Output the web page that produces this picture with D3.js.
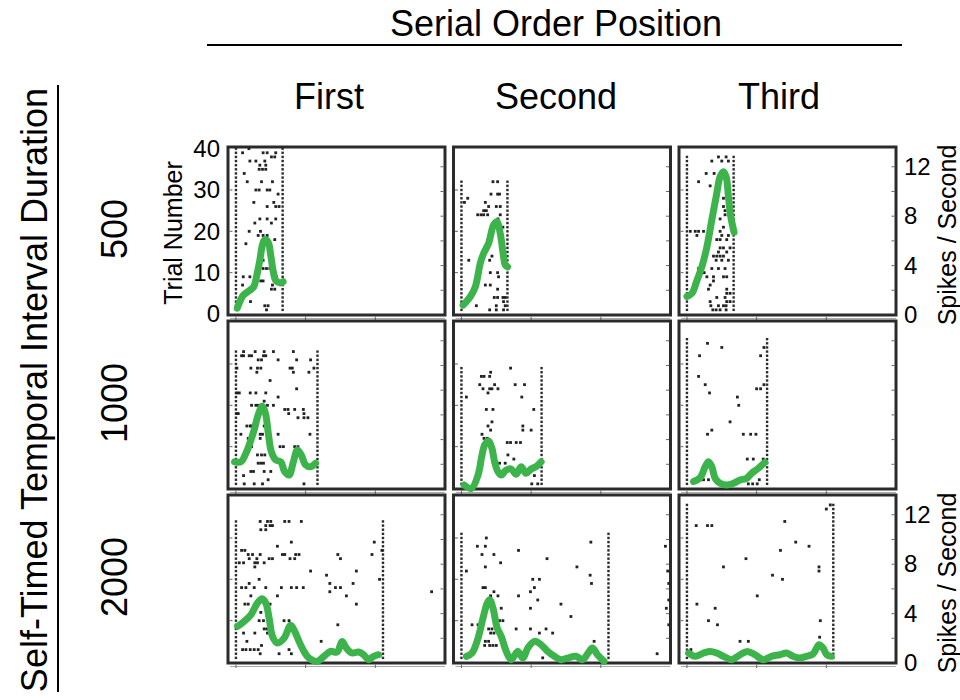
<!DOCTYPE html>
<html>
<head>
<meta charset="utf-8">
<script src="https://cdn.jsdelivr.net/npm/d3@7"></script>
<style>
  html, body { margin: 0; padding: 0; background: #fff; }
  svg { display: block; font-family: "Liberation Sans", Arial, Helvetica, sans-serif; }
</style>
</head>
<body>
<svg id="chart" width="960" height="700"></svg>
<script>
// Column and row headers
const positions = ["First", "Second", "Third"];
const durations = ["500", "1000", "2000"];

// Axis tick labels
const trialTicks = [0, 10, 20, 30, 40];
const rateTicks = [0, 4, 8, 12];

// Trials recorded per condition [duration row][position column]
const trialCounts = [[40, 32, 38], [33, 29, 36], [34, 31, 38]];
// Time (ms) of the end-of-interval marker per condition
const endTimes = [[670, 660, 670], [1170, 1150, 1150], [2110, 2110, 2100]];

// Spike rasters: [time ms, trial]
const spikes500First = [[95,39],[186,40],[390,39],[448,39],[571,39],[509,38],[557,38],[200,37],[286,37],[414,37],[343,36],[428,36],[333,35],[381,35],[428,35],[119,34],[162,32],[367,32],[524,32],[286,30],[333,30],[448,30],[486,30],[605,29],[257,27],[543,27],[448,26],[571,26],[619,26],[343,23],[448,23],[571,23],[271,22],[509,22],[190,20],[352,20],[319,19],[390,19],[448,19],[143,17],[557,18],[390,13],[390,11],[438,11],[486,11],[105,9],[200,9],[581,9],[95,7],[357,8],[390,8],[524,7],[509,6],[557,6],[209,3],[414,2],[461,2],[438,1]];
const spikes500Second = [[452,32],[519,32],[424,29],[519,29],[547,29],[90,28],[43,27],[343,27],[390,26],[500,26],[557,26],[319,25],[357,25],[233,24],[281,24],[319,24],[376,24],[557,24],[524,23],[595,21],[381,18],[333,16],[366,16],[105,13],[405,13],[438,14],[414,10],[519,10],[533,9],[343,7],[414,7],[519,6],[471,4],[519,4],[595,4],[628,4],[214,2],[500,2],[604,3],[628,2],[405,1],[500,1],[604,1]];
const spikes500Third = [[357,37],[452,38],[500,37],[562,38],[595,37],[276,34],[390,34],[167,32],[333,31],[428,29],[524,28],[524,26],[547,25],[476,23],[547,24],[48,20],[119,20],[167,20],[238,20],[143,19],[476,20],[524,21],[500,19],[428,18],[476,18],[571,18],[595,19],[476,16],[524,16],[619,16],[452,15],[571,15],[381,14],[428,14],[476,14],[524,14],[419,13],[500,13],[595,13],[452,11],[357,11],[547,11],[167,11],[248,10],[286,9],[381,9],[524,9],[571,9],[333,7],[309,6],[381,8],[571,6],[619,5],[571,5],[428,4],[547,4],[333,3],[571,3],[619,3],[343,2],[452,2],[524,2],[562,2],[371,1],[419,1],[476,1],[562,1]];
const spikes1000First = [[109,33],[276,33],[405,33],[538,33],[824,33],[81,32],[109,32],[190,32],[224,32],[395,32],[428,32],[319,31],[367,31],[605,31],[871,31],[1071,31],[14,29],[214,29],[309,29],[357,29],[776,29],[809,29],[1119,29],[300,28],[824,28],[1047,28],[490,26],[871,24],[14,23],[48,23],[205,23],[286,23],[428,23],[605,22],[405,21],[224,20],[286,20],[319,20],[452,20],[538,20],[700,19],[747,19],[843,19],[967,19],[14,18],[33,18],[757,18],[976,18],[890,17],[976,17],[1033,17],[157,15],[205,15],[224,15],[405,15],[252,14],[71,13],[348,13],[381,13],[605,13],[1062,13],[176,12],[348,12],[224,10],[500,10],[633,10],[681,10],[843,10],[890,10],[309,8],[367,8],[414,8],[319,6],[357,6],[395,6],[214,4],[252,4],[405,4],[500,4],[109,3],[462,2],[119,1],[262,1],[381,1],[976,1]];
const spikes1000Second = [[705,29],[419,28],[286,27],[324,27],[405,27],[262,25],[476,25],[771,25],[905,25],[309,24],[405,24],[438,24],[524,24],[381,23],[71,22],[866,22],[357,19],[452,19],[1038,19],[438,16],[381,15],[881,15],[419,14],[881,14],[1000,14],[295,13],[324,12],[371,12],[657,11],[705,11],[786,11],[847,11],[667,8],[547,6],[628,6],[752,7],[1000,5],[1047,3],[1009,1],[1095,1]];
const spikes1000Third = [[295,35],[500,34],[181,32],[1057,32],[1105,34],[167,27],[262,25],[1000,24],[1057,24],[1105,25],[324,23],[724,22],[743,20],[619,16],[295,13],[357,14],[809,13],[914,13],[990,13],[866,7],[952,7],[1095,7],[200,2],[238,2],[309,2],[1038,2],[881,1],[943,1],[1009,1]];
const spikes2000First = [[348,34],[452,34],[500,34],[700,34],[762,34],[938,34],[428,33],[490,33],[524,33],[357,32],[428,32],[795,29],[1985,29],[595,28],[81,27],[128,27],[2095,27],[1952,26],[176,26],[238,26],[348,26],[667,26],[700,26],[857,26],[905,26],[1462,26],[190,25],[300,25],[476,25],[524,25],[776,25],[843,25],[1500,25],[48,24],[109,24],[271,24],[309,24],[405,24],[271,23],[1071,22],[1728,22],[1300,21],[333,20],[2061,20],[1347,19],[1681,19],[190,19],[81,18],[143,18],[262,18],[428,18],[652,18],[795,18],[871,18],[966,18],[1428,18],[1500,18],[1347,17],[2808,17],[214,16],[595,16],[1585,16],[128,14],[176,14],[490,14],[1728,14],[357,12],[333,10],[395,10],[690,10],[762,10],[1462,9],[443,8],[405,8],[109,7],[271,7],[452,7],[157,5],[1223,5],[367,4],[762,3],[95,3],[143,3],[205,3],[262,3],[319,3],[348,2],[619,2],[795,2]];
const spikes2000Second = [[357,30],[228,28],[343,28],[1857,29],[295,26],[466,26],[819,27],[343,23],[71,22],[562,24],[1228,25],[1657,23],[1847,21],[1866,19],[1023,20],[1119,20],[1047,18],[309,18],[343,18],[990,17],[466,17],[419,16],[524,16],[819,16],[1095,15],[1428,14],[571,13],[990,13],[1571,11],[152,9],[238,9],[547,10],[595,10],[390,8],[438,8],[785,8],[990,8],[1214,8],[419,7],[466,7],[1119,7],[1309,7],[343,5],[390,5],[1904,5],[333,4],[405,4],[452,4],[500,4],[1166,1],[2808,2],[2927,28],[2960,22],[2975,19],[2975,15],[2940,13],[2975,9]];
const spikes2000Third = [[133,33],[295,33],[357,33],[1404,34],[2000,37],[2057,38],[1561,29],[1752,28],[1342,27],[847,25],[524,23],[1895,23],[1895,22],[1228,21],[1371,20],[1009,16],[143,14],[405,13],[309,10],[438,9],[1914,10],[1904,6],[762,5],[881,5],[57,3]];

// Mean firing rate: [time ms, spikes / second]
const rate500First = [[19,0.55],[105,1.6],[200,2.0],[257,2.3],[295,3.1],[343,4.45],[381,5.7],[414,6.1],[462,5.9],[495,5.0],[533,3.6],[571,2.8],[628,2.6],[676,2.7]];
const rate500Second = [[24,0.8],[129,1.5],[200,2.3],[271,4.2],[319,5.0],[390,5.8],[462,7.3],[509,7.55],[557,6.6],[605,4.7],[628,4.05],[662,3.9]];
const rate500Third = [[0,1.5],[71,1.75],[143,2.8],[214,3.9],[286,5.5],[357,7.7],[428,9.85],[476,11.2],[524,11.6],[562,11.2],[595,9.6],[628,8.0],[676,6.7]];
const rate1000First = [[-20,2.2],[71,2.2],[143,2.9],[205,3.8],[262,4.8],[319,6.0],[376,6.7],[424,6.1],[462,4.6],[509,3.0],[571,2.35],[643,2.2],[700,1.4],[762,1.13],[824,2.2],[881,3.16],[938,2.75],[1000,1.94],[1071,1.8],[1143,2.08]];
const rate1000Second = [[38,0.32],[143,0.05],[238,1.13],[295,2.75],[333,3.56],[390,3.89],[438,3.29],[476,2.2],[524,1.4],[571,1.13],[643,1.54],[714,1.62],[786,1.19],[857,1.81],[928,1.27],[1000,1.62],[1071,1.81],[1143,2.2]];
const rate1000Third = [[95,0.6],[190,0.92],[262,1.8],[309,2.2],[357,1.8],[405,0.86],[476,0.46],[571,0.32],[667,0.46],[762,0.73],[857,0.86],[928,1.27],[1023,1.67],[1119,2.16]];
const rate2000First = [[24,2.97],[119,3.37],[214,3.9],[309,4.86],[376,5.2],[428,4.86],[476,3.64],[524,2.16],[595,1.62],[690,2.0],[786,3.05],[843,2.56],[905,1.75],[976,0.94],[1047,0.4],[1166,0.13],[1262,0.54],[1357,0.94],[1452,0.89],[1523,1.75],[1585,1.21],[1666,0.81],[1761,0.89],[1833,0.67],[1904,0.27],[1976,0.54],[2047,0.67]];
const rate2000Second = [[71,0.54],[152,0.81],[238,2.0],[309,3.64],[371,4.86],[405,5.13],[452,4.45],[514,2.83],[571,2.16],[643,0.94],[714,0.27],[809,0.94],[881,0.4],[952,1.21],[1047,1.75],[1143,1.48],[1238,0.94],[1333,0.54],[1428,0.27],[1523,0.4],[1642,0.54],[1738,0.27],[1818,0.81],[1880,1.21],[1952,0.67],[2047,0.13]];
const rate2000Third = [[24,0.81],[119,0.54],[238,0.81],[333,0.94],[428,0.81],[524,0.54],[643,0.27],[762,0.67],[866,0.94],[976,0.67],[1095,0.27],[1214,0.54],[1333,0.67],[1428,0.81],[1523,0.54],[1618,0.4],[1714,0.54],[1809,0.73],[1895,1.48],[1952,1.21],[2009,0.67],[2071,0.54]];

const spikeGrid = [
  [spikes500First, spikes500Second, spikes500Third],
  [spikes1000First, spikes1000Second, spikes1000Third],
  [spikes2000First, spikes2000Second, spikes2000Third]
];
const rateGrid = [
  [rate500First, rate500Second, rate500Third],
  [rate1000First, rate1000Second, rate1000Third],
  [rate2000First, rate2000Second, rate2000Third]
];

// ---- layout ----
const svg = d3.select("#chart");
const font = '"Liberation Sans", Arial, Helvetica, sans-serif';
const panelX = [228, 453.5, 679];
const panelY = [147, 321, 495];
const headerX = [329, 556, 779];
const panelW = 217, panelH = 168;
const ink = "#2b2b2b";
const green = "#3cb44b";

const x = d3.scaleLinear().domain([-114, 3000]).range([0, panelW]);
const yTrial = d3.scaleLinear().domain([0, 40.4]).range([167, 0]);
const yRate = d3.scaleLinear().domain([0, 13.6]).range([panelH, 0]);

const line = d3.line()
  .x(d => x(d[0]))
  .y(d => yRate(d[1]))
  .curve(d3.curveCatmullRom.alpha(0.5));

// Headers
svg.append("text")
  .attr("x", 556).attr("y", 36)
  .attr("text-anchor", "middle")
  .attr("font-size", 36)
  .text("Serial Order Position");
svg.append("line")
  .attr("x1", 207).attr("x2", 902).attr("y1", 45).attr("y2", 45)
  .attr("stroke", "#000").attr("stroke-width", 2);

svg.selectAll("text.col").data(positions).join("text")
  .attr("class", "col")
  .attr("x", (d, i) => headerX[i])
  .attr("y", 109)
  .attr("text-anchor", "middle")
  .attr("font-size", 36)
  .text(d => d);

svg.append("text")
  .attr("transform", "translate(47,390) rotate(-90)")
  .attr("text-anchor", "middle")
  .attr("font-size", 36)
  .text("Self-Timed Temporal Interval Duration");
svg.append("line")
  .attr("x1", 58).attr("x2", 58).attr("y1", 85).attr("y2", 692)
  .attr("stroke", "#000").attr("stroke-width", 2);

svg.selectAll("text.row").data(durations).join("text")
  .attr("class", "row")
  .attr("transform", (d, i) => `translate(127,${panelY[i] + panelH / 2 - 2}) rotate(-90)`)
  .attr("text-anchor", "middle")
  .attr("font-size", 36)
  .text(d => d);

// Panels
durations.forEach((dur, r) => {
  positions.forEach((pos, c) => {
    const g = svg.append("g").attr("transform", `translate(${panelX[c]},${panelY[r]})`);

    // faint baseline under the frame
    g.append("line")
      .attr("x1", 2).attr("x2", panelW).attr("y1", panelH + 3.5).attr("y2", panelH + 3.5)
      .attr("stroke", "#aaa").attr("stroke-width", 1);

    g.append("rect")
      .attr("x", 0).attr("y", 0).attr("width", panelW).attr("height", panelH)
      .attr("fill", "#fff").attr("stroke", ink).attr("stroke-width", 3);

    // inner ticks
    const tk = g.append("g").attr("stroke", "#666").attr("stroke-width", 1);
    [10, 20, 30].forEach(t => tk.append("line")
      .attr("x1", 1.5).attr("x2", 4.5).attr("y1", yTrial(t)).attr("y2", yTrial(t)));
    [2, 4, 6, 8, 10, 12].forEach(v => tk.append("line")
      .attr("x1", panelW - 4.5).attr("x2", panelW - 1.5).attr("y1", yRate(v)).attr("y2", yRate(v)));
    [0, 1000, 2000].forEach(t => tk.append("line")
      .attr("x1", x(t)).attr("x2", x(t)).attr("y1", panelH + 1.5).attr("y2", panelH + 5));

    // start / end markers for every trial
    const n = trialCounts[r][c];
    const trials = d3.range(1, n + 1);
    const markers = trials.flatMap(t => [[0, t], [endTimes[r][c], t]]);
    g.append("g").attr("fill", ink)
      .selectAll("rect").data(markers).join("rect")
      .attr("x", d => x(d[0]) - 1.2).attr("y", d => yTrial(d[1]) - 1.2)
      .attr("width", 2.4).attr("height", 2.4);

    // spikes
    g.append("g").attr("fill", "#222")
      .selectAll("rect").data(spikeGrid[r][c]).join("rect")
      .attr("x", d => x(d[0]) - 1.4).attr("y", d => yTrial(d[1]) - 1.4)
      .attr("width", 2.8).attr("height", 2.8);

    // firing rate
    g.append("path")
      .datum(rateGrid[r][c])
      .attr("d", line)
      .attr("fill", "none")
      .attr("stroke", green)
      .attr("stroke-width", 7)
      .attr("stroke-linecap", "round")
      .attr("stroke-linejoin", "round");
  });
});

// Left axis (trial number) on the first panel
const leftAxis = svg.append("g")
  .attr("transform", `translate(${panelX[0]},${panelY[0]})`)
  .call(d3.axisLeft(yTrial).tickValues(trialTicks).tickSize(0).tickPadding(8));
leftAxis.select(".domain").remove();
leftAxis.selectAll("text").attr("font-size", 24).attr("font-family", font).attr("fill", "#000");

svg.append("text")
  .attr("transform", `translate(182,${panelY[0] + 86}) rotate(-90)`)
  .attr("text-anchor", "middle")
  .attr("font-size", 25)
  .text("Trial Number");

// Right axes (spikes / second) on rows 1 and 3
[0, 2].forEach(r => {
  const ax = svg.append("g")
    .attr("transform", `translate(${panelX[2] + panelW},${panelY[r]})`)
    .call(d3.axisRight(yRate).tickValues(rateTicks).tickSize(0).tickPadding(8));
  ax.select(".domain").remove();
  ax.selectAll("text").attr("font-size", 24).attr("font-family", font).attr("fill", "#000");

  svg.append("text")
    .attr("transform", `translate(956,${panelY[r] + 88}) rotate(-90)`)
    .attr("text-anchor", "middle")
    .attr("font-size", 25)
    .text("Spikes / Second");
});
</script>
</body>
</html>
